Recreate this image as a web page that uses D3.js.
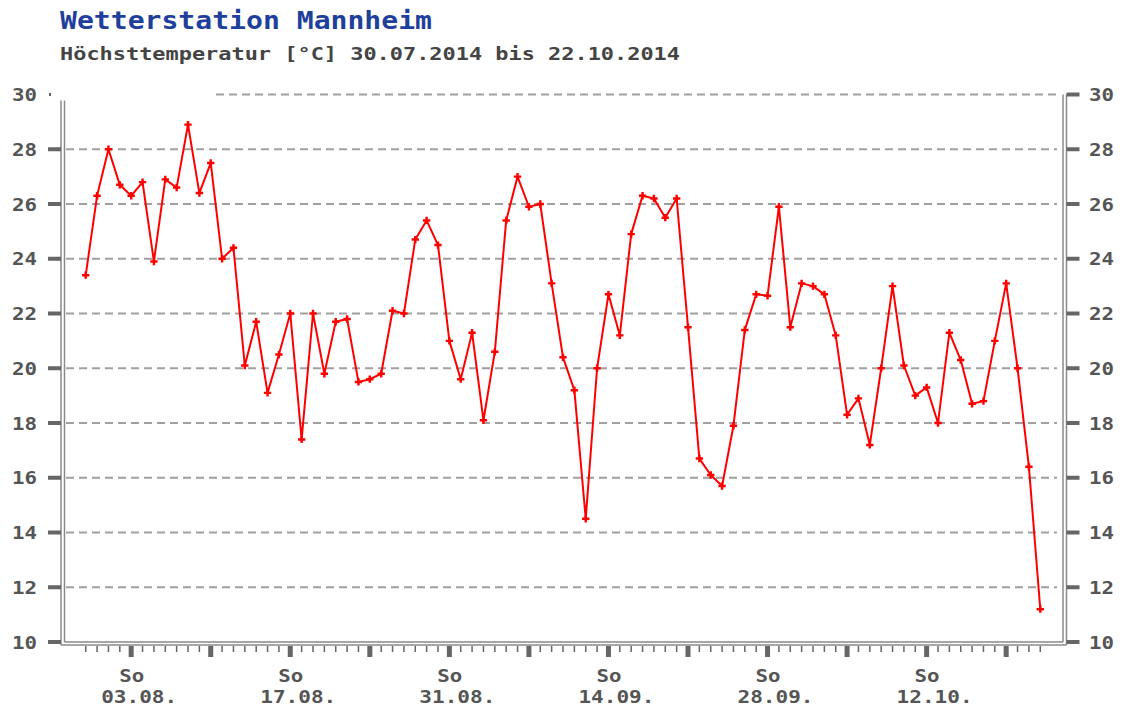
<!DOCTYPE html>
<html>
<head>
<meta charset="utf-8">
<script src="https://cdn.jsdelivr.net/npm/d3@7"></script>
<style>
  body { margin: 0; background: #fff; }
  svg text { font-family: "DejaVu Sans Mono", monospace; font-weight: bold; }
</style>
</head>
<body>
<svg id="canvas" width="1123" height="711"></svg>
<script>
// daily maximum temperature, 30.07.2014 .. 22.10.2014
var startDay = '30.07.2014';
var maxTemps = [
  23.4, 26.3, 28.0, 26.7, 26.3, 26.8, 23.9, 26.9, 26.6, 28.9,
  26.4, 27.5, 24.0, 24.4, 20.1, 21.7, 19.1, 20.5, 22.0, 17.4,
  22.0, 19.8, 21.7, 21.8, 19.5, 19.6, 19.8, 22.1, 22.0, 24.7,
  25.4, 24.5, 21.0, 19.6, 21.3, 18.1, 20.6, 25.4, 27.0, 25.9,
  26.0, 23.1, 20.4, 19.2, 14.5, 20.0, 22.7, 21.2, 24.9, 26.3,
  26.2, 25.5, 26.2, 21.5, 16.7, 16.1, 15.7, 17.9, 21.4, 22.7,
  22.65, 25.9, 21.5, 23.1, 23.0, 22.7, 21.2, 18.3, 18.9, 17.2,
  20.0, 23.0, 20.1, 19.0, 19.3, 18.0, 21.3, 20.3, 18.7, 18.8,
  21.0, 23.1, 20.0, 16.4, 11.2
];
var xLabelDates = ['03.08.2014', '17.08.2014', '31.08.2014', '14.09.2014', '28.09.2014', '12.10.2014'];
var xLabelDay = 'So';
var yTicks = [10, 12, 14, 16, 18, 20, 22, 24, 26, 28, 30];

var parseDay = d3.utcParse('%d.%m.%Y');
var fmtDay = d3.utcFormat('%d.%m.');
var start = parseDay(startDay);
var data = maxTemps.map(function(v, i) {
  return {date: d3.utcDay.offset(start, i), value: v};
});
var lastDay = data[data.length - 1].date;

var plotLeft = 63;
var plotRight = 1063;
var plotTop = 94.5;
var plotBottom = 642;

var svg = d3.select('#canvas');

var x = d3
  .scaleUtc()
  .domain([d3.utcDay.offset(start, -2), d3.utcDay.offset(lastDay, 2)])
  .range([plotLeft, plotRight]);
var y = d3
  .scaleLinear()
  .domain([10, 30])
  .range([plotBottom, plotTop]);

function label(sel, width) {
  return sel
    .attr('textLength', width)
    .attr('lengthAdjust', 'spacingAndGlyphs')
    .style('font-size', '17px')
    .style('fill', '#555');
}

// titles
svg.append('text')
  .attr('x', 60)
  .attr('y', 29)
  .attr('textLength', 372)
  .attr('lengthAdjust', 'spacingAndGlyphs')
  .style('font-size', '24px')
  .style('fill', '#1f3f9c')
  .text('Wetterstation Mannheim');
svg.append('text')
  .attr('x', 60)
  .attr('y', 60)
  .attr('textLength', 620)
  .attr('lengthAdjust', 'spacingAndGlyphs')
  .style('font-size', '17px')
  .style('fill', '#444')
  .text('Höchsttemperatur [°C] ' + startDay + ' bis ' + d3.utcFormat('%d.%m.%Y')(lastDay));

// dashed grid
svg.append('g')
  .selectAll('line')
  .data(yTicks.filter(function(d) { return d > 10; }))
  .enter()
  .append('line')
  .attr('x1', function(d) { return d === 30 ? 216 : plotLeft + 3; })
  .attr('x2', plotRight - 6)
  .attr('y1', function(d) { return y(d); })
  .attr('y2', function(d) { return y(d); })
  .style('stroke', '#a0a0a0')
  .style('stroke-width', 2)
  .style('stroke-dasharray', '8,5');

// frame: double lines
var frame = svg.append('g').style('stroke', '#8a8a8a').style('stroke-width', 1.5).style('fill', 'none');
frame.append('line').attr('x1', plotLeft - 2).attr('x2', plotLeft - 2).attr('y1', plotTop + 6).attr('y2', plotBottom + 3);
frame.append('line').attr('x1', plotLeft + 1.5).attr('x2', plotLeft + 1.5).attr('y1', plotTop + 6).attr('y2', plotBottom);
frame.append('line').attr('x1', plotRight).attr('x2', plotRight).attr('y1', plotTop).attr('y2', plotBottom);
frame.append('line').attr('x1', plotRight + 3.5).attr('x2', plotRight + 3.5).attr('y1', plotTop).attr('y2', plotBottom + 3);
frame.append('line').attr('x1', plotLeft + 1.5).attr('x2', plotRight).attr('y1', plotBottom).attr('y2', plotBottom);
frame.append('line').attr('x1', plotLeft - 2).attr('x2', plotRight + 3.5).attr('y1', plotBottom + 3).attr('y2', plotBottom + 3);

// y axes, both sides
var yLeft = svg.append('g');
yLeft.selectAll('rect')
  .data(yTicks.filter(function(d) { return d < 30; }))
  .enter()
  .append('rect')
  .attr('x', 48)
  .attr('y', function(d) { return y(d) - 2; })
  .attr('width', 13)
  .attr('height', 4)
  .style('fill', '#666');
yLeft.append('rect')
  .attr('x', 49).attr('y', y(30) - 1.5).attr('width', 2).attr('height', 3)
  .style('fill', '#666');
label(yLeft.selectAll('text')
  .data(yTicks)
  .enter()
  .append('text')
  .attr('x', 12)
  .attr('y', function(d) { return y(d) + 6.5; }), 25)
  .text(function(d) { return d; });

var yRight = svg.append('g');
yRight.selectAll('rect')
  .data(yTicks)
  .enter()
  .append('rect')
  .attr('x', plotRight + 3.5)
  .attr('y', function(d) { return y(d) - 2; })
  .attr('width', 13)
  .attr('height', 4)
  .style('fill', '#666');
label(yRight.selectAll('text')
  .data(yTicks)
  .enter()
  .append('text')
  .attr('x', 1089)
  .attr('y', function(d) { return y(d) + 6.5; }), 25)
  .text(function(d) { return d; });

// x axis: daily ticks, Sundays thicker
var days = d3.utcDay.range(start, d3.utcDay.offset(lastDay, 1));
var xAxis = svg.append('g');
xAxis.selectAll('rect')
  .data(days)
  .enter()
  .append('rect')
  .attr('x', function(d) {
    return d.getUTCDay() === 0 ? x(d) - 2.5 : x(d) - 0.75;
  })
  .attr('y', plotBottom + 4)
  .attr('width', function(d) { return d.getUTCDay() === 0 ? 5 : 1.5; })
  .attr('height', function(d) { return d.getUTCDay() === 0 ? 11 : 6; })
  .style('fill', '#666');

var labels = xAxis.selectAll('g.lbl')
  .data(xLabelDates.map(parseDay))
  .enter()
  .append('g')
  .attr('class', 'lbl');
label(labels.append('text')
  .attr('x', function(d) { return x(d) - 12; })
  .attr('y', 682), 25)
  .text(xLabelDay);
label(labels.append('text')
  .attr('x', function(d) { return x(d) - 30; })
  .attr('y', 703), 76)
  .text(function(d) { return fmtDay(d); });

// temperature line
var line = d3
  .line()
  .x(function(d) { return x(d.date); })
  .y(function(d) { return y(d.value); });

svg.append('path')
  .datum(data)
  .attr('d', line)
  .style('fill', 'none')
  .style('stroke', '#ff0000')
  .style('stroke-width', 2)
  .style('stroke-linejoin', 'round');

svg.append('g')
  .selectAll('path')
  .data(data)
  .enter()
  .append('path')
  .attr('transform', function(d) { return 'translate(' + x(d.date) + ',' + y(d.value) + ')'; })
  .attr('d', d3.symbol().type(d3.symbolCross).size(30))
  .style('fill', '#ff0000');
</script>
</body>
</html>
